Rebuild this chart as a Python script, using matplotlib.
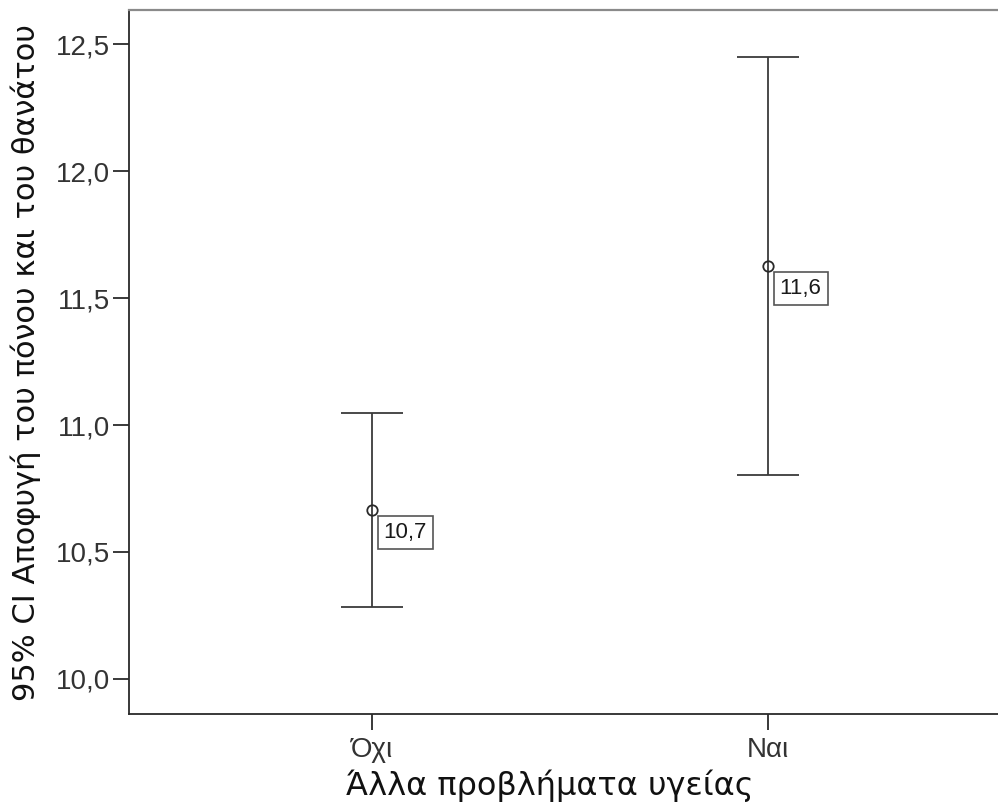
import matplotlib
matplotlib.use("Agg")
import matplotlib.pyplot as plt
from matplotlib.ticker import FixedLocator, FuncFormatter

# group means with 95% confidence interval bounds
categories = ["Όχι", "Ναι"]
means = [10.665, 11.626]
ci_lower = [10.283, 10.803]
ci_upper = [11.047, 12.449]
mean_labels = ["10,7", "11,6"]
y_ticks = [10.0, 10.5, 11.0, 11.5, 12.0, 12.5]

plt.rcParams["font.family"] = ["Liberation Sans", "DejaVu Sans"]

fig = plt.figure(figsize=(9.98, 8.07), dpi=100)
ax = fig.add_axes([0.1293, 0.1152, 0.8707, 0.8724])

xs = list(range(len(categories)))
for x, m, lo, hi in zip(xs, means, ci_lower, ci_upper):
    ax.errorbar([x], [m], yerr=[[m - lo], [hi - m]], fmt="none",
                ecolor="#3a3a3a", elinewidth=1.3, capsize=22, capthick=1.3)
ax.plot(xs, means, linestyle="none", marker="o", markersize=7.5,
        markerfacecolor="none", markeredgecolor="#2a2a2a", markeredgewidth=1.3)

pad = 0.27
for x, m, lab in zip(xs, means, mean_labels):
    ax.annotate(lab, (x, m), xytext=(4.1 + pad * 16, -(4.6 + pad * 16)),
                textcoords="offset points", ha="left", va="top",
                fontsize=16, color="#1a1a1a",
                bbox=dict(boxstyle=f"square,pad={pad}", facecolor="white",
                          edgecolor="#555555", linewidth=1.2))

ax.set_xlim(-0.6136, 1.581)
ax.set_ylim(9.862, 12.634)
ax.set_xticks(xs)
ax.set_xticklabels(categories)
ax.yaxis.set_major_locator(FixedLocator(y_ticks))
ax.yaxis.set_major_formatter(FuncFormatter(lambda v, p: f"{v:.1f}".replace(".", ",")))

ax.tick_params(axis="both", length=11.5, width=1.3, colors="#2a2a2a",
               labelsize=20, labelcolor="#333333")
ax.tick_params(axis="x", pad=5)
ax.tick_params(axis="y", pad=2)

ax.spines["right"].set_visible(False)
ax.spines["top"].set_color("#8a8a8a")
ax.spines["top"].set_linewidth(1.6)
for side in ("left", "bottom"):
    ax.spines[side].set_color("#2a2a2a")
    ax.spines[side].set_linewidth(1.3)

# axis titles use the wider DejaVu face
ax.set_xlabel("Άλλα προβλήματα υγείας", fontsize=23, color="#111111",
              family="DejaVu Sans")
ax.xaxis.set_label_coords(0.484, -0.102)
ax.xaxis.label.set_va("center")
ax.set_ylabel("95% CI Αποφυγή του πόνου και του θανάτου", fontsize=22,
              color="#111111", family="DejaVu Sans")
ax.yaxis.set_label_coords(-0.1185, 0.5)
ax.yaxis.label.set_va("center")

fig.savefig("out.png", dpi=100)
